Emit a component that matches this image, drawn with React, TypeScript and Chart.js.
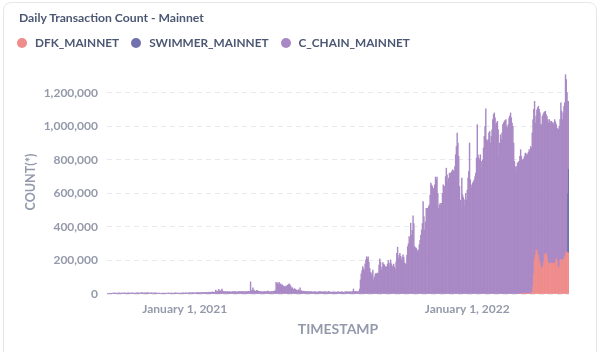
import React, { useEffect, useRef } from "react";
import { Chart, registerables } from "chart.js";

Chart.register(...registerables);

// ---------- data ----------
const START_DATE = "2020-09-23";
const DAY_COUNT = 597;

const TICK_LABELS: Record<string, string> = {
  "2021-01-01": "January 1, 2021",
  "2022-01-01": "January 1, 2022",
};

const Y_TICKS = [0, 200000, 400000, 600000, 800000, 1000000, 1200000];
const Y_MAX = 1335000;

// C_CHAIN_MAINNET daily transactions, thousands (one value per day from START_DATE)
const C_CHAIN_K = [
  2, 3, 4, 4, 5, 4, 3, 5, 6, 5,
  5, 6, 4, 5, 6, 7, 5, 4, 6, 5,
  6, 5, 7, 6, 5, 4, 6, 7, 6, 5,
  5, 6, 6, 7, 5, 4, 5, 6, 7, 6,
  7, 6, 5, 6, 7, 8, 6, 5, 6, 7,
  6, 7, 8, 7, 6, 5, 6, 7, 6, 5,
  5, 6, 7, 6, 5, 4, 5, 6, 5, 4,
  4, 5, 6, 5, 4, 4, 5, 4, 5, 6,
  5, 4, 5, 6, 5, 4, 5, 6, 7, 6,
  5, 6, 5, 4, 5, 6, 5, 6, 7, 6,
  6, 7, 6, 5, 6, 7, 8, 7, 6, 7,
  7, 8, 7, 6, 7, 8, 9, 8, 7, 8,
  8, 7, 8, 9, 8, 7, 8, 9, 10, 9,
  9, 10, 11, 10, 9, 11, 12, 11, 10, 12,
  24, 14, 18, 12, 28, 16, 20, 14, 30, 18,
  14, 12, 16, 13, 11, 15, 12, 14, 13, 12,
  11, 13, 15, 12, 14, 16, 13, 11, 12, 14,
  13, 15, 12, 14, 16, 14, 12, 13, 15, 14,
  12, 14, 16, 13, 15, 72, 18, 22, 37, 24,
  20, 16, 18, 22, 19, 17, 15, 16, 14, 13,
  12, 14, 13, 15, 12, 14, 13, 18, 16, 14,
  13, 12, 15, 14, 13, 16, 18, 20, 70, 62,
  66, 58, 70, 54, 60, 52, 54, 48, 46, 44,
  42, 48, 44, 52, 56, 60, 54, 46, 34, 38,
  30, 28, 32, 27, 24, 22, 20, 26, 18, 37,
  20, 18, 16, 15, 17, 14, 13, 15, 16, 14,
  13, 12, 14, 15, 13, 12, 11, 13, 14, 12,
  11, 12, 13, 12, 14, 15, 13, 11, 12, 13,
  12, 14, 13, 11, 12, 13, 15, 12, 11, 10,
  11, 12, 10, 13, 12, 11, 10, 12, 14, 11,
  10, 12, 11, 13, 12, 10, 11, 12, 13, 14,
  12, 13, 11, 12, 14, 13, 12, 15, 30, 13,
  14, 16, 15, 13, 12, 18, 30, 84, 120, 140,
  163, 150, 143, 180, 203, 222, 210, 222, 190, 153,
  130, 113, 125, 143, 84, 100, 115, 123, 118, 125,
  123, 173, 209, 190, 143, 160, 187, 178, 173, 159,
  165, 159, 178, 199, 185, 163, 203, 180, 159, 170,
  179, 160, 147, 190, 243, 279, 213, 230, 243, 225,
  203, 215, 233, 220, 187, 180, 173, 230, 282, 300,
  342, 320, 422, 352, 380, 466, 420, 282, 276, 273,
  265, 253, 260, 293, 320, 350, 382, 420, 551, 461,
  382, 430, 511, 500, 511, 520, 531, 590, 661, 650,
  641, 630, 611, 650, 697, 680, 697, 600, 511, 530,
  541, 530, 541, 600, 651, 641, 641, 700, 750, 710,
  670, 690, 720, 720, 720, 730, 740, 735, 730, 760,
  830, 879, 959, 900, 820, 641, 560, 501, 691, 591,
  575, 561, 521, 600, 560, 620, 691, 730, 900, 681,
  650, 631, 661, 670, 681, 700, 720, 810, 1009, 830,
  810, 800, 830, 790, 750, 800, 870, 939, 1000, 1103,
  919, 909, 920, 960, 969, 900, 940, 979, 1040, 1069,
  1079, 1050, 1009, 1020, 1029, 980, 820, 900, 949, 919,
  960, 1009, 1020, 1029, 1035, 1039, 1000, 989, 1010, 1049,
  1060, 1079, 1050, 1019, 1000, 900, 790, 760, 730, 760,
  780, 785, 790, 818, 857, 817, 796, 787, 801, 817,
  836, 827, 830, 826, 842, 856, 845, 875, 864, 952,
  995, 980, 945, 789, 798, 836, 870, 896, 900, 896,
  849, 856, 901, 907, 889, 852, 849, 827, 839, 847,
  834, 856, 850, 836, 844, 838, 826, 836, 856, 835,
  796, 789, 822, 821, 844, 836, 934, 887, 839, 877,
  908, 917, 1067, 1026, 950, 551, 405,
];

// DFK_MAINNET daily transactions, thousands, starting at DFK_START
const DFK_START = "2022-03-10";
const DFK_K = [
  2, 3, 3, 4, 3, 4, 3,
  4, 3, 5, 4, 3, 4, 5, 4, 6, 8,
  44, 120, 203, 230, 262, 262, 240, 222, 200, 183,
  160, 153, 158, 163, 190, 233, 240, 243, 220, 193,
  185, 183, 180, 183, 185, 182, 183, 184, 183, 190,
  213, 200, 163, 158, 156, 203, 205, 203, 200, 203,
  210, 222, 240, 252, 250, 247, 243,
];

// SWIMMER_MAINNET daily transactions, thousands, starting at SWIMMER_START
const SWIMMER_START = "2022-05-11";
const SWIMMER_K = [350, 500];

const SERIES_NAMES = ["DFK_MAINNET", "SWIMMER_MAINNET", "C_CHAIN_MAINNET"];
const SERIES_COLORS = ["#EF8C8C", "#7172AD", "#A989C5"];

// ---------- helpers ----------
const DAY_MS = 86400000;
const LABELS: string[] = [];
{
  const t0 = Date.parse(START_DATE + "T00:00:00Z");
  for (let i = 0; i < DAY_COUNT; i++) {
    LABELS.push(new Date(t0 + i * DAY_MS).toISOString().slice(0, 10));
  }
}
function alignSeries(start: string, valuesK: number[]): (number | null)[] {
  const offset = LABELS.indexOf(start);
  return LABELS.map((_, i) => {
    const j = i - offset;
    return j >= 0 && j < valuesK.length ? valuesK[j] * 1000 : null;
  });
}

const TEXT_DARK = "#4C5773";
const TEXT_MED = "#949AAB";
const FONT = "Lato, 'Noto Sans', sans-serif";

export default function App() {
  const canvasRef = useRef<HTMLCanvasElement | null>(null);

  useEffect(() => {
    if (!canvasRef.current) return;
    const dfk = alignSeries(DFK_START, DFK_K);
    const swimmer = alignSeries(SWIMMER_START, SWIMMER_K);
    const cchain = alignSeries(START_DATE, C_CHAIN_K);
    const seriesData = [dfk, swimmer, cchain];

    const chart = new Chart(canvasRef.current, {
      type: "bar",
      data: {
        labels: LABELS,
        datasets: SERIES_NAMES.map((name, i) => ({
          label: name,
          data: seriesData[i],
          backgroundColor: SERIES_COLORS[i],
          borderWidth: 0,
          barPercentage: 1,
          categoryPercentage: 1,
        })),
      },
      options: {
        animation: false,
        responsive: false,
        devicePixelRatio: 1,
        layout: { padding: { left: 19, right: 35, top: 70, bottom: 10 } },
        plugins: {
          legend: { display: false },
          tooltip: { enabled: false },
        },
        scales: {
          x: {
            stacked: true,
            grid: { display: false, drawTicks: false },
            border: { display: false },
            ticks: {
              autoSkip: false,
              maxRotation: 0,
              minRotation: 0,
              padding: 8,
              color: TEXT_MED,
              font: { family: FONT, size: 12, weight: "bold" },
              callback: (_v: any, i: number) => TICK_LABELS[LABELS[i]] ?? "",
            },
            title: {
              display: true,
              text: "TIMESTAMP",
              color: TEXT_MED,
              font: { family: FONT, size: 14, weight: "bold" },
              padding: { top: 4, bottom: 4 },
            },
            afterFit: (s: any) => {
              s.height = 48;
            },
          },
          y: {
            stacked: true,
            min: 0,
            max: Y_MAX,
            grid: { color: "#E8E9EC", drawTicks: false },
            border: { display: false, dash: [5, 4] },
            ticks: {
              autoSkip: false,
              padding: 9,
              color: TEXT_MED,
              font: { family: FONT, size: 12, weight: "bold" },
              callback: (v: any) => Number(v).toLocaleString("en-US"),
            },
            afterBuildTicks: (s: any) => {
              s.ticks = Y_TICKS.map((value) => ({ value }));
            },
            title: {
              display: true,
              text: "COUNT(*)",
              color: TEXT_MED,
              font: { family: FONT, size: 12.5, weight: "bold" },
              padding: { top: 4, bottom: 4 },
            },
            afterFit: (s: any) => {
              s.width = 88;
            },
          },
        },
      } as any,
    });
    return () => chart.destroy();
  }, []);

  return (
    <div
      style={{
        position: "fixed",
        left: 0,
        top: 0,
        width: 604,
        height: 352,
        background: "#fff",
        overflow: "hidden",
        fontFamily: FONT,
      }}
    >
      <div
        style={{
          position: "absolute",
          left: 3,
          top: 2,
          width: 592,
          height: 380,
          border: "1px solid #E6E7EA",
          borderRadius: 8,
          background: "#fff",
        }}
      />
      <canvas
        ref={canvasRef}
        width={604}
        height={352}
        style={{ position: "absolute", left: 0, top: 0, width: 604, height: 352 }}
      />
      <div
        style={{
          position: "absolute",
          left: 19,
          top: 10,
          fontSize: 12.2,
          fontWeight: 700,
          color: TEXT_DARK,
          whiteSpace: "nowrap",
          lineHeight: "16px",
        }}
      >
        Daily Transaction Count - Mainnet
      </div>
      <div
        style={{
          position: "absolute",
          left: 17,
          top: 34,
          display: "flex",
          alignItems: "center",
          whiteSpace: "nowrap",
        }}
      >
        {SERIES_NAMES.map((name, i) => (
          <div key={name} style={{ display: "flex", alignItems: "center", marginRight: 12 }}>
            <span
              style={{
                display: "inline-block",
                width: 10,
                height: 10,
                borderRadius: "50%",
                background: SERIES_COLORS[i],
                marginRight: 8,
              }}
            />
            <span style={{ fontSize: 11.8, fontWeight: 700, color: TEXT_DARK, lineHeight: "18px" }}>
              {name}
            </span>
          </div>
        ))}
      </div>
    </div>
  );
}
